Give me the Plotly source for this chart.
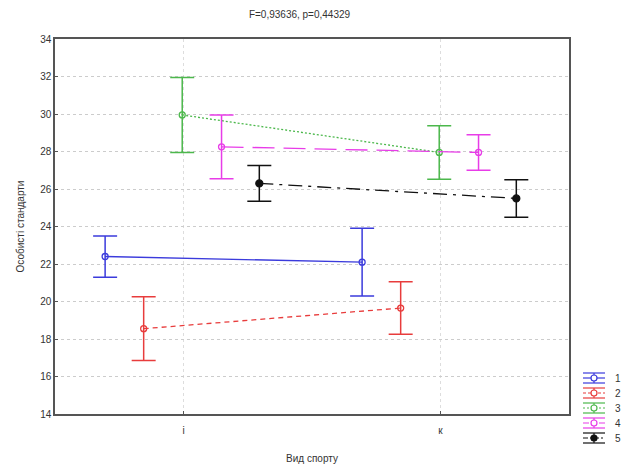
import plotly.graph_objects as go

categories = ["і", "к"]
series_names = ["1", "2", "3", "4", "5"]
means = {
    "1": [22.4, 22.1],
    "2": [18.55, 19.65],
    "3": [29.95, 27.95],
    "4": [28.25, 27.95],
    "5": [26.3, 25.5],
}
errors = {
    "1": [1.1, 1.8],
    "2": [1.7, 1.4],
    "3": [2.0, 1.43],
    "4": [1.7, 0.95],
    "5": [0.95, 1.0],
}

colors = {"1": "#3b3bdc", "2": "#e83c3c", "3": "#4cb84c", "4": "#e83ce8", "5": "#111111"}
dashes = {"1": "solid", "2": "5px,4px", "3": "2px,2px", "4": "22px,9px", "5": "14px,6px,3px,6px"}
legend_dashes = {"1": "solid", "2": "3px,2px", "3": "2px,2px", "4": "6px,2px", "5": "5px,2px,2px,2px"}
offsets = {"1": -0.305, "2": -0.155, "3": -0.005, "4": 0.148, "5": 0.295}

W, H = 624, 468
L, R, T, B = 55, 569, 39, 414

fig = go.Figure()
for s in series_names:
    c = colors[s]
    xs = [i + 1 + offsets[s] for i in range(len(categories))]
    filled = s == "5"
    fig.add_trace(go.Scatter(
        x=xs, y=means[s], name=s, mode="lines+markers", showlegend=False,
        line=dict(color=c, width=1.3, dash=dashes[s]),
        marker=dict(symbol="circle" if filled else "circle-open", size=7 if filled else 6,
                    color=c, line=dict(color=c, width=1.3)),
        error_y=dict(type="data", array=errors[s], visible=True, color=c, thickness=1.5, width=12),
    ))

# compact legend, drawn with shapes in paper coordinates
def px(x):
    return (x - L) / (R - L)

def py(y):
    return (B - y) / (B - T)

shapes = []
annotations = []
for k, s in enumerate(series_names):
    c = colors[s]
    yc = 378 + 15 * k
    x0, x1, xm = 583, 605, 594
    shapes.append(dict(type="line", xref="paper", yref="paper", x0=px(x0), x1=px(x1), y0=py(yc), y1=py(yc),
                       line=dict(color=c, width=1.2, dash=legend_dashes[s])))
    for yy in (yc - 5, yc + 5):
        shapes.append(dict(type="line", xref="paper", yref="paper", x0=px(x0), x1=px(x1), y0=py(yy), y1=py(yy),
                           line=dict(color=c, width=1.2)))
    shapes.append(dict(type="line", xref="paper", yref="paper", x0=px(xm), x1=px(xm), y0=py(yc - 5), y1=py(yc + 5),
                       line=dict(color=c, width=1.2)))
    r = 3
    shapes.append(dict(type="circle", xref="paper", yref="paper", x0=px(xm - r), x1=px(xm + r),
                       y0=py(yc + r), y1=py(yc - r), line=dict(color=c, width=1.2),
                       fillcolor=c if s == "5" else "white"))
    annotations.append(dict(text=s, xref="paper", yref="paper", x=px(613), y=py(yc), xanchor="left",
                            yanchor="middle", showarrow=False, font=dict(size=10, color="#333")))

fig.update_layout(
    width=W, height=H,
    margin=dict(l=L, r=W - R, t=T, b=H - B),
    paper_bgcolor="white", plot_bgcolor="white",
    font=dict(family="Liberation Sans, Arial, sans-serif", size=10, color="#333"),
    title=dict(text="F=0,93636, p=0,44329", x=0.48, xanchor="center", y=0.97, yanchor="middle",
               font=dict(size=10, color="#333")),
    showlegend=False,
    shapes=shapes,
    annotations=annotations,
)
fig.update_xaxes(range=[0.5, 2.5], tickvals=[1, 2], ticktext=categories, automargin=False,
                 showline=True, linecolor="#555", linewidth=1.5, mirror=True,
                 showgrid=True, gridcolor="#dddddd", griddash="dot",
                 ticks="inside", ticklen=3, tickcolor="#555", ticklabelstandoff=6,
                 title=dict(text="Вид спорту", font=dict(size=10), standoff=20), zeroline=False)
fig.update_yaxes(range=[14, 34], dtick=2, automargin=False,
                 showline=True, linecolor="#555", linewidth=1.5, mirror=True,
                 showgrid=True, gridcolor="#cccccc", griddash="dot",
                 ticks="inside", ticklen=3, tickcolor="#555",
                 title=dict(text="Особисті стандарти", font=dict(size=10), standoff=14), zeroline=False)

fig.write_html("out.html", config={"displayModeBar": False},
               post_script="document.body.style.margin='0';")
